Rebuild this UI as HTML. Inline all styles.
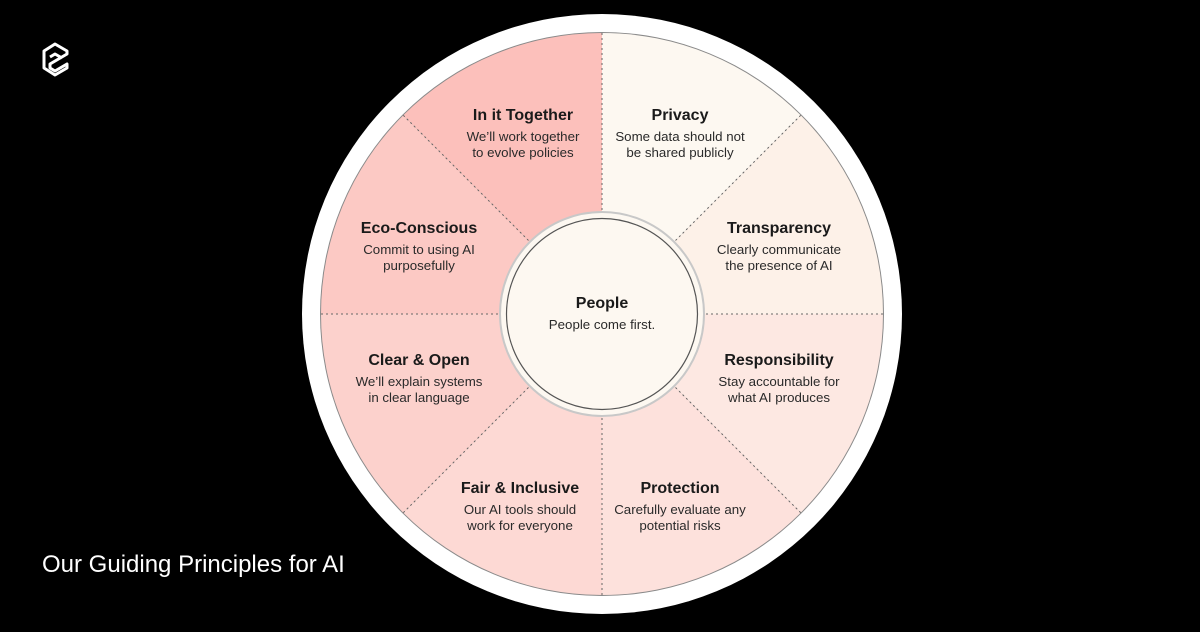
<!DOCTYPE html>
<html><head><style>
html,body{margin:0;padding:0;background:#000;}
body{width:1200px;height:627px;overflow:hidden;position:relative;}
svg text{font-family:"Liberation Sans",sans-serif;text-anchor:middle;fill:#1a1a1a;}
.t{font-size:16px;font-weight:bold;}
.s{font-size:13.3px;fill:#2a2a2a;}
</style></head><body>
<svg width="1200" height="627" viewBox="0 0 1200 627" xmlns="http://www.w3.org/2000/svg">
<rect width="1200" height="627" fill="#000"/>
<g fill="none" stroke="#fff" stroke-width="3" stroke-linejoin="round">
<path d="M44 51 L55 44 L67 51 L67 54 L50 64 L50 68 L55 71 L67 64 L67 68 L55 75 L44 68 Z"/>
<path d="M50 57 L55 54 L62 58"/>
</g>
<text x="42" y="572" style="font-size:24px;fill:#fff;text-anchor:start;">Our Guiding Principles for AI</text>
<circle cx="602" cy="314" r="300" fill="#fff"/>
<circle cx="602" cy="314" r="282" fill="#8a8a8a"/>
<g stroke="none">
<path d="M602 314 L602 33 A281 281 0 0 1 800.7 115.3 Z" fill="#fdf8f1"/>
<path d="M602 314 L800.7 115.3 A281 281 0 0 1 883 314 Z" fill="#fdf1e8"/>
<path d="M602 314 L883 314 A281 281 0 0 1 800.7 512.7 Z" fill="#fde8e2"/>
<path d="M602 314 L800.7 512.7 A281 281 0 0 1 602 595 Z" fill="#fde1dc"/>
<path d="M602 314 L602 595 A281 281 0 0 1 403.3 512.7 Z" fill="#fdd9d4"/>
<path d="M602 314 L403.3 512.7 A281 281 0 0 1 321 314 Z" fill="#fcd1cc"/>
<path d="M602 314 L321 314 A281 281 0 0 1 403.3 115.3 Z" fill="#fcc9c4"/>
<path d="M602 314 L403.3 115.3 A281 281 0 0 1 602 33 Z" fill="#fcc0bb"/>
</g>
<g stroke="#666" stroke-width="1" stroke-dasharray="2,3">
<line x1="602" y1="33" x2="602" y2="595"/>
<line x1="321" y1="314" x2="883" y2="314"/>
<line x1="403.3" y1="115.3" x2="800.7" y2="512.7"/>
<line x1="800.7" y1="115.3" x2="403.3" y2="512.7"/>
</g>
<circle cx="602" cy="314" r="102" fill="#fdf8f1" stroke="#c8c8c8" stroke-width="2"/>
<circle cx="602" cy="314" r="95.5" fill="#fdf8f1" stroke="#555" stroke-width="1.2"/>
<text class="t" x="602" y="308">People</text>
<text class="s" x="602" y="329">People come first.</text>

<text class="t" x="523" y="120">In it Together</text>
<text class="s" x="523" y="141">We’ll work together</text>
<text class="s" x="523" y="157">to evolve policies</text>

<text class="t" x="680" y="120">Privacy</text>
<text class="s" x="680" y="141">Some data should not</text>
<text class="s" x="680" y="157">be shared publicly</text>

<text class="t" x="419" y="233">Eco-Conscious</text>
<text class="s" x="419" y="254">Commit to using AI</text>
<text class="s" x="419" y="270">purposefully</text>

<text class="t" x="779" y="233">Transparency</text>
<text class="s" x="779" y="254">Clearly communicate</text>
<text class="s" x="779" y="270">the presence of AI</text>

<text class="t" x="419" y="365">Clear &amp; Open</text>
<text class="s" x="419" y="386">We’ll explain systems</text>
<text class="s" x="419" y="402">in clear language</text>

<text class="t" x="779" y="365">Responsibility</text>
<text class="s" x="779" y="386">Stay accountable for</text>
<text class="s" x="779" y="402">what AI produces</text>

<text class="t" x="520" y="493">Fair &amp; Inclusive</text>
<text class="s" x="520" y="514">Our AI tools should</text>
<text class="s" x="520" y="530">work for everyone</text>

<text class="t" x="680" y="493">Protection</text>
<text class="s" x="680" y="514">Carefully evaluate any</text>
<text class="s" x="680" y="530">potential risks</text>
</svg>
</body></html>
